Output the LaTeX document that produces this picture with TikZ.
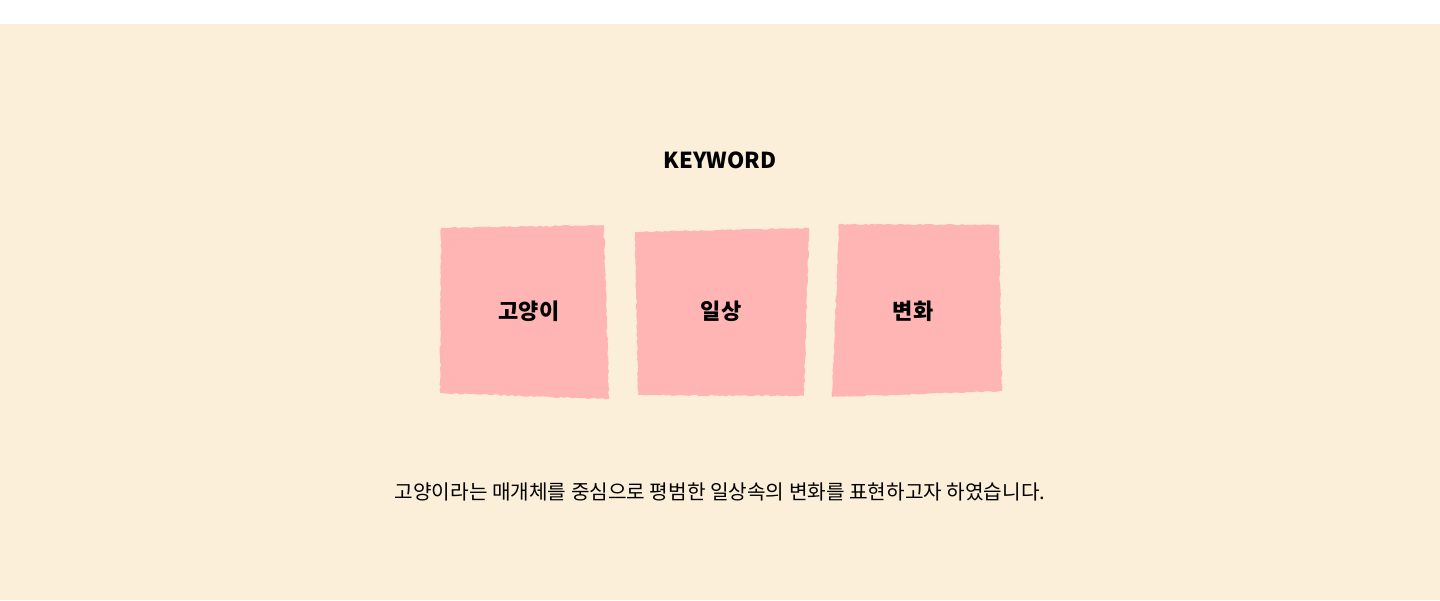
\documentclass[tikz,border=0pt]{standalone}
\usepackage{fontspec}
\setmainfont{Noto Sans CJK KR}
\usetikzlibrary{decorations.pathmorphing}
\definecolor{paper}{HTML}{FCEFD9}
\definecolor{note}{HTML}{FFB5B4}

\begin{document}
\begin{tikzpicture}[x=1pt, y=-1pt,
  sheet/.style={fill = note, decorate, decoration={random steps, segment length=3pt, amplitude=0.7pt}},
  lbl/.style={inner sep = 0pt, font=\fontsize{22}{26}\selectfont\bfseries}]
\pgfmathsetseed{7}
\useasboundingbox (0,0) rectangle (1440,600);
\fill[white] (0,0) rectangle (1440,24);
\fill[paper] (0,24) rectangle (1440,600);
\node[lbl] (title) at (720,160) {KEYWORD};
% torn sheets
\path[sheet] (441,228) -- (604,225) -- (609,399) -- (440,393) -- cycle;
\path[sheet] (635,232) -- (809,228) -- (804,396) -- (638,395) -- cycle;
\path[sheet] (839,224) -- (999,225) -- (1002,391) -- (832,397) -- cycle;
\node[lbl] (cat) at (529,311) {고양이};
\node[lbl] (daily) at (721,311) {일상};
\node[lbl] (change) at (913,311) {변화};
\node[inner sep = 0pt, font=\fontsize{20.2}{24}\selectfont] (desc) at (720,492) {고양이라는 매개체를 중심으로 평범한 일상속의 변화를 표현하고자 하였습니다.};
\end{tikzpicture}
\end{document}
